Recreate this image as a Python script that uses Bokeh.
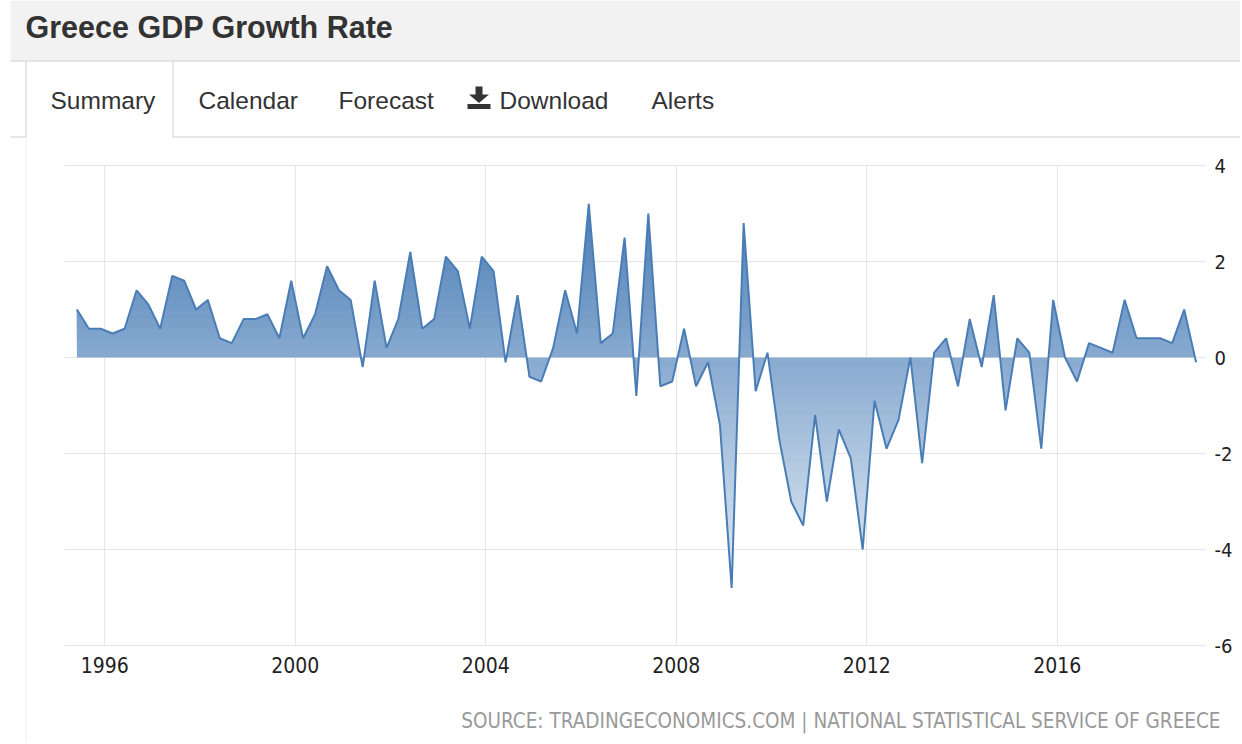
import numpy as np
import pandas as pd
from bokeh.plotting import figure
from bokeh.models import Range1d, FixedTicker, DatetimeAxis, LinearAxis, Grid
from bokeh.core.properties import value
from bokeh.embed import file_html
from bokeh.resources import INLINE

# ---------------- data ----------------
first_quarter = "1995Q2"
last_quarter = "2018Q4"
growth = [1.0, 0.6, 0.6, 0.5, 0.6, 1.4, 1.1, 0.6, 1.7, 1.6,
          1.0, 1.2, 0.4, 0.3, 0.8, 0.8, 0.9, 0.4, 1.6, 0.4,
          0.9, 1.9, 1.4, 1.2, -0.2, 1.6, 0.2, 0.8, 2.2, 0.6,
          0.8, 2.1, 1.8, 0.6, 2.1, 1.8, -0.1, 1.3, -0.4, -0.5,
          0.2, 1.4, 0.5, 3.2, 0.3, 0.5, 2.5, -0.8, 3.0, -0.6,
          -0.5, 0.6, -0.6, -0.1, -1.4, -4.8, 2.8, -0.7, 0.1, -1.7,
          -3.0, -3.5, -1.2, -3.0, -1.5, -2.1, -4.0, -0.9, -1.9, -1.3,
          0.0, -2.2, 0.1, 0.4, -0.6, 0.8, -0.2, 1.3, -1.1, 0.4,
          0.1, -1.9, 1.2, 0.0, -0.5, 0.3, 0.2, 0.1, 1.2, 0.4,
          0.4, 0.4, 0.3, 1.0, -0.1]
tick_years = ["1996", "2000", "2004", "2008", "2012", "2016"]
y_ticks = [-6, -4, -2, 0, 2, 4]
y_tick_labels = ["-6", "-4", "-2", "0", "2", "4"]
title = "Greece GDP Growth Rate"
tabs = ["Summary", "Calendar", "Forecast", "Download", "Alerts"]
source = "SOURCE: TRADINGECONOMICS.COM | NATIONAL STATISTICAL SERVICE OF GREECE"

periods = pd.period_range(first_quarter, last_quarter, freq="Q")
dates = [pr.asfreq("M", "end").to_timestamp() for pr in periods]


def ms(ts):
    return pd.Timestamp(ts).value / 1e6


X = np.array([ms(d) for d in dates])
Y = np.array(growth, dtype=float)

# ---------------- page geometry (pixels) ----------------
W, H = 1240, 742
YEAR_MS = 365.25 * 24 * 3600 * 1000
X_REF_PX, PX_PER_YEAR = 104.3, 47.62      # where 1996 sits, pixels per year
Y0_PX, PX_PER_UNIT = 357.0, 48.0          # where 0 sits, pixels per unit
FRAME_L, FRAME_R, FRAME_T, FRAME_B = 64, 1205, 165, 645
X_REF = ms("1996-01-01")


def px_x(px):
    return X_REF + (px - X_REF_PX) / PX_PER_YEAR * YEAR_MS


def px_y(py):
    return (Y0_PX - py) / PX_PER_UNIT


NARROW = "DejaVu Sans Condensed"
SANS = "Liberation Sans"
LINE_GRAY = "#d0d0d0"

p = figure(width=W, height=H, x_range=Range1d(px_x(0), px_x(W)),
           y_range=Range1d(px_y(H), px_y(0)),
           x_axis_type=None, y_axis_type=None, output_backend="svg",
           toolbar_location=None, min_border=0)
p.outline_line_color = None
p.background_fill_color = "white"
p.border_fill_color = "white"

# ---------------- axes & grids ----------------
xt = [ms(f"{y}-01-01") for y in tick_years]
xticker = FixedTicker(ticks=xt)
yticker = FixedTicker(ticks=y_ticks)
xaxis = DatetimeAxis(ticker=xticker, fixed_location=y_ticks[0])
xaxis.major_label_overrides = {t: lab for t, lab in zip(xt, tick_years)}
yaxis = LinearAxis(ticker=yticker, fixed_location=px_x(FRAME_R))
yaxis.major_label_overrides = {t: lab for t, lab in zip(y_ticks, y_tick_labels)}
for ax in (xaxis, yaxis):
    ax.axis_line_color = None
    ax.major_tick_line_color = None
    ax.minor_tick_line_color = None
    ax.major_label_text_font = NARROW
    ax.major_label_text_color = "#222222"
xaxis.major_label_text_font_size = "21px"
yaxis.major_label_text_font_size = "20px"
xaxis.major_label_standoff = 5
yaxis.major_label_standoff = 3
p.add_layout(xaxis, "below")
p.add_layout(yaxis, "right")
p.add_layout(Grid(dimension=0, ticker=xticker, grid_line_color="#e6e6e6"))
p.add_layout(Grid(dimension=1, ticker=yticker, grid_line_color="#e6e6e6"))

# white masks so the grid only shows in the chart panel
p.quad(left=[px_x(0), px_x(FRAME_R + 0.5), px_x(0), px_x(0)],
       right=[px_x(FRAME_L), px_x(W), px_x(W), px_x(W)],
       top=[px_y(0), px_y(0), px_y(0), px_y(FRAME_B + 0.6)],
       bottom=[px_y(H), px_y(H), px_y(FRAME_T - 0.6), px_y(H)],
       fill_color="white", line_color=None)

# ---------------- header ----------------
p.quad(left=[px_x(10)], right=[px_x(W)], top=[px_y(0)], bottom=[px_y(60.5)],
       fill_color="#f2f2f2", line_color=None)
p.segment(x0=[px_x(v) for v in [10, 25.5, 172.5, 10, 172.5]],
          y0=[px_y(v) for v in [60.5, 61, 61, 136.5, 136.5]],
          x1=[px_x(v) for v in [W, 25.5, 172.5, 25.5, W]],
          y1=[px_y(v) for v in [60.5, 136.5, 136.5, 136.5, 136.5]],
          line_color=LINE_GRAY, line_width=1)
p.segment(x0=[px_x(25.5)], y0=[px_y(137)], x1=[px_x(25.5)], y1=[px_y(H)],
          line_color="#eeeeee", line_width=1)
p.text(x=[px_x(25)], y=[px_y(26)], text=[title], text_font=value(SANS),
       text_font_size="30.5px", text_font_style="bold", text_color="#333333",
       text_baseline="middle")
p.text(x=[px_x(v) for v in [50, 198, 338, 499, 651]], y=[px_y(100)] * 5, text=tabs,
       text_font=value(SANS), text_font_size="24.5px", text_color="#333333",
       text_baseline="middle")
# download icon
p.patch(x=[px_x(v) for v in [475, 482, 482, 488.5, 478.5, 468.5, 475]],
        y=[px_y(v) for v in [86, 86, 94, 94, 102.5, 94, 94]],
        fill_color="#333333", line_color=None)
p.quad(left=[px_x(467)], right=[px_x(490)], top=[px_y(103.5)], bottom=[px_y(108.5)],
       fill_color="#333333", line_color=None)

# ---------------- gradient area (stacked horizontal layers) ----------------
c_top = np.array([74, 125, 182])
c_bot = np.array([228, 237, 246])
y_hi, y_lo = 3.2, -4.8


def col(yv):
    t = min(max((y_hi - yv) / (y_hi - y_lo), 0), 1)
    c = c_top + t * (c_bot - c_top)
    return "#%02x%02x%02x" % tuple(int(round(v)) for v in c)


def with_crossings(level):
    xs = [X[0]]
    ys = [Y[0]]
    for i in range(len(X) - 1):
        y0, y1 = Y[i], Y[i + 1]
        if (y0 - level) * (y1 - level) < 0:
            t = (level - y0) / (y1 - y0)
            xs.append(X[i] + t * (X[i + 1] - X[i]))
            ys.append(level)
        xs.append(X[i + 1])
        ys.append(y1)
    return np.array(xs), np.array(ys)


step = 0.2
for a in np.round(np.arange(0, Y.max(), step), 3):
    xs, ys = with_crossings(a)
    p.varea(x=xs, y1=np.full(len(xs), a), y2=np.maximum(ys, a),
            fill_color=col(a + step / 2), fill_alpha=1)
for b in np.round(-np.arange(0, -Y.min(), step), 3):
    xs, ys = with_crossings(b)
    p.varea(x=xs, y1=np.minimum(ys, b), y2=np.full(len(xs), b),
            fill_color=col(b - step / 2), fill_alpha=1)

p.line(X, Y, line_color="#4a7db5", line_width=2)

# ---------------- source ----------------
p.text(x=[px_x(1220)], y=[px_y(720)], text=[source], text_font=value(NARROW),
       text_font_size="20.5px", text_color="#999999", text_align="right",
       text_baseline="middle")

open("out.html", "w").write(file_html(p, INLINE))
